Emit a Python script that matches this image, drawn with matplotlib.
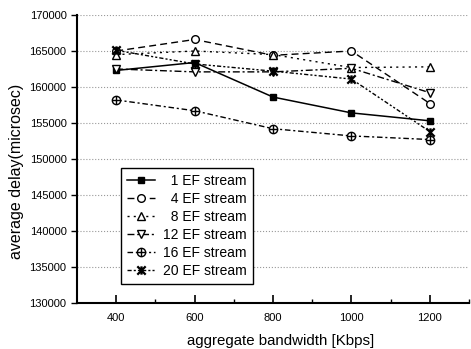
import matplotlib
matplotlib.use("Agg")
import matplotlib.pyplot as plt
from matplotlib.path import Path
import numpy as np

plt.rcParams['font.family'] = ['Liberation Sans', 'DejaVu Sans']

bandwidth = [400, 600, 800, 1000, 1200]
labels = ["  1 EF stream", "  4 EF stream", "  8 EF stream", "12 EF stream", "16 EF stream", "20 EF stream"]
ef1 = [162300, 163400, 158600, 156400, 155300]
ef4 = [165000, 166600, 164400, 165000, 157700]
ef8 = [164500, 165000, 164500, 162700, 162800]
ef12 = [162500, 162100, 162100, 162600, 159200]
ef16 = [158200, 156700, 154200, 153200, 152700]
ef20 = [165100, 163200, 162200, 161100, 153800]
yticks = [130000, 135000, 140000, 145000, 150000, 155000, 160000, 165000, 170000]
xticks = [400, 600, 800, 1000, 1200]

# circle with cross marker
circ = Path.unit_circle()
cross = Path([(-1, 0), (1, 0), (0, -1), (0, 1)],
             [Path.MOVETO, Path.LINETO, Path.MOVETO, Path.LINETO])
oplus = Path.make_compound_path(circ, cross)
# bowtie-like x marker
xstar = Path([(-1, -1), (1, 1), (-1, 1), (1, -1), (0, -1), (0, 1)],
             [Path.MOVETO, Path.LINETO, Path.MOVETO, Path.LINETO, Path.MOVETO, Path.LINETO])

fig = plt.figure(figsize=(4.71, 3.49), dpi=100)
ax = fig.add_axes([0.1635, 0.132, 0.8325, 0.825])

series = [ef1, ef4, ef8, ef12, ef16, ef20]
styles = [
    dict(ls='-', marker='s', mfc='black', ms=5, lw=1.1),
    dict(ls=(0, (5, 3)), marker='o', mfc='white', ms=5.5, lw=1.0),
    dict(ls=(0, (1.5, 3)), marker='^', mfc='white', ms=6, lw=1.0),
    dict(ls=(0, (5, 2, 1.5, 2)), marker='v', mfc='white', ms=6, lw=1.0),
    dict(ls=(0, (4, 2, 1.5, 2)), marker=oplus, mfc='white', ms=6, lw=1.0),
    dict(ls=(0, (3, 1.5, 1.5, 1.5, 1.5, 1.5)), marker=xstar, mfc='black', ms=6, lw=1.0, mew=1.6),
]
for vals, lab, st in zip(series, labels, styles):
    mew = st.pop('mew', 1.0)
    ax.plot(bandwidth, vals, color='black', mec='black', mew=mew, label=lab, **st)

ax.set_xlim(300, 1300)
ax.set_ylim(130000, 170000)
ax.set_xticks(xticks)
ax.set_xticks([500, 700, 900, 1100, 1300], minor=True)
ax.set_yticks(yticks)
ax.tick_params(axis='x', direction='in', length=6, width=1.2, labelsize=8, pad=7)
ax.tick_params(axis='x', which='minor', direction='in', length=3, width=1)
ax.tick_params(axis='y', direction='out', length=4, width=1, labelsize=8)
ax.grid(axis='y', ls=':', color='#999999', lw=0.8)
for s in ['top', 'right']:
    ax.spines[s].set_visible(False)
for s in ['left', 'bottom']:
    ax.spines[s].set_linewidth(1.5)

ax.set_xlabel('aggregate bandwidth [Kbps]', fontsize=10.8, va='center')
ax.xaxis.set_label_coords((281 - 77) / 392, (303 - 341) / 288)
ax.set_ylabel('average delay(microsec)', fontsize=11.5, va='center')
ax.yaxis.set_label_coords((17 - 77) / 392, (303 - 171) / 288)

leg = ax.legend(loc='lower left', bbox_to_anchor=(0.112, 0.066), fontsize=10,
                frameon=True, fancybox=False, edgecolor='black', framealpha=1,
                handlelength=2.0, labelspacing=0.28, borderpad=0.45, handletextpad=0.6,
                borderaxespad=0)
leg.get_frame().set_linewidth(1.0)

fig.savefig('out.png', dpi=100)
